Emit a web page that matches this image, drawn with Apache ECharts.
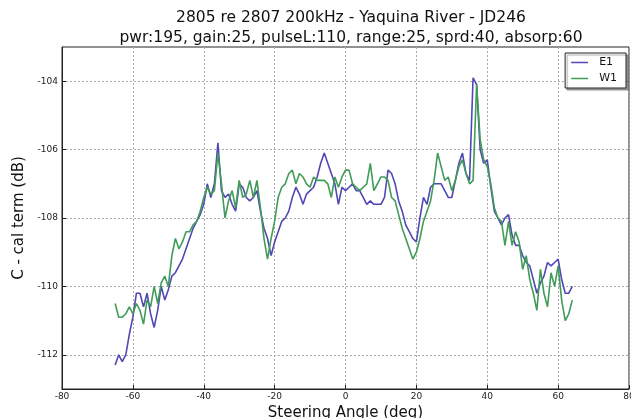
<!DOCTYPE html>
<html>
<head>
<meta charset="utf-8">
<script src="https://cdn.jsdelivr.net/npm/echarts@6/dist/echarts.min.js"></script>
<style>
  html, body { margin: 0; padding: 0; background: #fff; }
  #chart { width: 631px; height: 418px; }
</style>
</head>
<body>
<div id="chart"></div>
<script>
// steering angle (deg), one sample per degree
const angles = []
for (let a = -65; a <= 64; a++) angles.push(a)

const e1 = [
  -112.3, -112.0, -112.2, -112.0, -111.4, -110.9, -110.2, -110.2, -110.6, -110.2,
  -110.8, -111.2, -110.7, -110.0, -110.4, -110.1, -109.7, -109.6, -109.4, -109.2,
  -108.9, -108.6, -108.3, -108.1, -107.9, -107.6, -107.0, -107.4, -107.0, -105.8,
  -107.2, -107.4, -107.3, -107.6, -107.8, -107.0, -107.1, -107.4, -107.5, -107.4,
  -107.2, -107.8, -108.3, -108.6, -109.1, -108.7, -108.4, -108.1, -108.0, -107.8,
  -107.4, -107.1, -107.3, -107.6, -107.3, -107.2, -107.1, -106.8, -106.4, -106.1,
  -106.4, -106.7, -107.0, -107.6, -107.1, -107.2, -107.1, -107.0, -107.2, -107.2,
  -107.4, -107.6, -107.5, -107.6, -107.6, -107.6, -107.4, -106.6, -106.7, -107.0,
  -107.5, -107.8, -108.2, -108.4, -108.6, -108.7, -108.0, -107.4, -107.6, -107.1,
  -107.0, -107.0, -107.0, -107.2, -107.4, -107.4, -106.9, -106.4, -106.1, -106.7,
  -106.9, -103.9, -104.1, -106.0, -106.4, -106.3, -107.1, -107.8, -108.0, -108.2,
  -108.0, -107.9, -108.5, -108.8, -108.8, -109.1, -109.3, -109.4, -109.8, -110.2,
  -109.9, -109.7, -109.3, -109.4, -109.3, -109.2, -109.8, -110.2, -110.2, -110.0
]

const w1 = [
  -110.5, -110.9, -110.9, -110.8, -110.6, -110.8, -110.5, -110.7, -111.1, -110.4,
  -110.6, -110.0, -110.5, -109.9, -109.7, -110.0, -109.1, -108.6, -108.9, -108.7,
  -108.4, -108.4, -108.2, -108.1, -107.8, -107.4, -107.1, -107.3, -107.2, -106.1,
  -107.0, -108.0, -107.5, -107.2, -107.7, -106.9, -107.4, -107.3, -106.9, -107.4,
  -106.9, -107.7, -108.6, -109.2, -108.6, -108.1, -107.4, -107.1, -107.0, -106.7,
  -106.6, -107.0, -106.7, -106.8, -107.0, -107.1, -106.8, -106.9, -106.9, -106.9,
  -107.0, -107.4, -106.8, -107.1, -106.8, -106.6, -106.6, -107.0, -107.1, -107.2,
  -107.1, -107.0, -106.4, -107.2, -107.0, -106.8, -106.8, -106.9, -107.4, -107.5,
  -107.9, -108.3, -108.6, -108.9, -109.2, -109.0, -108.6, -108.1, -107.8, -107.5,
  -106.9, -106.1, -106.5, -106.9, -106.8, -107.2, -106.9, -106.5, -106.3, -106.7,
  -107.0, -106.9, -104.1, -105.7, -106.3, -106.5, -107.0, -107.7, -108.0, -108.1,
  -108.8, -108.1, -108.8, -108.4, -108.7, -109.5, -109.1, -109.8, -110.2, -110.7,
  -109.5, -110.2, -110.6, -109.6, -110.0, -109.4, -110.4, -111.0, -110.8, -110.4
]

const yTicks = [-112, -110, -108, -106, -104]

const font = '"DejaVu Sans", sans-serif'
const pairs = (vals) => angles.map((a, i) => [a, vals[i]])

const chart = echarts.init(document.getElementById('chart'))
chart.setOption({
  animation: false,
  title: {
    text: '2805 re 2807 200kHz - Yaquina River - JD246\npwr:195, gain:25, pulseL:110, range:25, sprd:40, absorp:60',
    left: 346,
    textAlign: 'center',
    top: 3,
    textStyle: { fontFamily: font, fontSize: 15.5, fontWeight: 'normal', color: '#111', lineHeight: 20 },
  },
  legend: {
    data: ['E1', 'W1'],
    orient: 'vertical',
    right: 5,
    top: 53,
    icon: 'rect',
    itemWidth: 17,
    itemHeight: 1.5,
    itemGap: 3,
    padding: [3, 9, 3, 6],
    borderColor: '#222',
    borderWidth: 1,
    backgroundColor: '#fff',
    shadowColor: 'rgba(0,0,0,0.35)',
    shadowOffsetX: 2,
    shadowOffsetY: 2,
    shadowBlur: 1,
    textStyle: { fontFamily: font, fontSize: 11, color: '#111', lineHeight: 13, padding: [0, 0, 0, 6] },
  },
  grid: {
    left: 62,
    right: 2,
    top: 47,
    bottom: 29,
    outerBoundsMode: 'none',
    containLabel: false,
    show: true,
    borderColor: '#222',
    borderWidth: 1,
  },
  xAxis: {
    type: 'value',
    min: -80,
    max: 80,
    interval: 20,
    name: 'Steering Angle (deg)',
    nameLocation: 'middle',
    nameGap: 14,
    nameTextStyle: { fontFamily: font, fontSize: 15, color: '#111' },
    axisLine: { show: true, onZero: false, lineStyle: { color: '#222' } },
    axisTick: { show: true, inside: true, length: 4, lineStyle: { color: '#222' } },
    axisLabel: { fontFamily: font, fontSize: 9, color: '#222', margin: 3 },
    splitLine: { show: true, lineStyle: { color: '#aaa', type: [2, 2] } },
  },
  yAxis: {
    type: 'value',
    min: -113,
    max: -103,
    name: 'C - cal term (dB)',
    nameLocation: 'middle',
    nameGap: 32,
    nameTextStyle: { fontFamily: font, fontSize: 15, color: '#111' },
    axisLine: { show: true, onZero: false, lineStyle: { color: '#222' } },
    axisTick: { show: true, inside: true, length: 4, customValues: yTicks, lineStyle: { color: '#222' } },
    axisLabel: { fontFamily: font, fontSize: 9, color: '#222', margin: 4, customValues: yTicks },
    splitLine: { show: true, lineStyle: { color: '#aaa', type: [2, 2] } },
  },
  series: [
    {
      name: 'E1',
      type: 'line',
      symbol: 'none',
      data: pairs(e1),
      lineStyle: { color: '#5048b4', width: 1.6 },
      itemStyle: { color: '#5048b4' },
    },
    {
      name: 'W1',
      type: 'line',
      symbol: 'none',
      data: pairs(w1),
      lineStyle: { color: '#409c58', width: 1.6 },
      itemStyle: { color: '#409c58' },
    },
  ],
})
</script>
</body>
</html>
